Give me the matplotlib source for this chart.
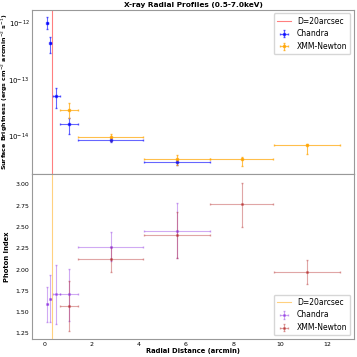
import matplotlib.pyplot as plt
import numpy as np

# radial bins (arcmin)
chandra_r = [0.127, 0.255, 0.51, 1.05, 2.81, 5.62]
chandra_rerr = [0.027, 0.03, 0.155, 0.38, 1.385, 1.405]
xmm_r = [1.05, 2.81, 5.62, 8.36, 11.12]
xmm_rerr = [0.38, 1.385, 1.405, 1.34, 1.415]

# surface brightness (ergs cm^-2 arcmin^-2 s^-1)
chandra_sb = [9.8e-13, 4.33e-13, 5.14e-14, 1.63e-14, 8.74e-15, 3.47e-15]
chandra_sb_lo = [2.15e-13, 1.33e-13, 1.94e-14, 5.1e-15, 8.0e-16, 4.0e-16]
chandra_sb_hi = [2.65e-13, 1.33e-13, 1.96e-14, 5.1e-15, 8.0e-16, 4.0e-16]
xmm_sb = [2.88e-14, 9.7e-15, 3.98e-15, 4.04e-15, 6.94e-15]
xmm_sb_lo = [7.4e-15, 1.3e-15, 8.0e-16, 1.05e-15, 2.0e-15]
xmm_sb_hi = [9.9e-15, 1.3e-15, 8.0e-16, 3.0e-16, 3.0e-16]

# photon index
chandra_gamma = [1.597, 1.66, 1.711, 1.711, 2.27, 2.457]
chandra_gamma_lo = [0.21, 0.28, 0.345, 0.313, 0.17, 0.32]
chandra_gamma_hi = [0.20, 0.273, 0.347, 0.30, 0.175, 0.323]
xmm_gamma = [1.57, 2.12, 2.41, 2.765, 1.977]
xmm_gamma_lo = [0.297, 0.152, 0.27, 0.265, 0.147]
xmm_gamma_hi = [0.293, 0.15, 0.265, 0.255, 0.14]

d20 = 20 / 60.

fig, (ax1, ax2) = plt.subplots(2, 1, sharex=True, figsize=(3.57, 3.57), dpi=100)
fig.subplots_adjust(left=0.09, right=0.992, top=0.973, bottom=0.05, hspace=0)

# top panel: surface brightness
ax1.axvline(d20, color='red', alpha=0.5, lw=0.8, label='D=20arcsec')
ax1.errorbar(chandra_r, chandra_sb, xerr=chandra_rerr, yerr=[chandra_sb_lo, chandra_sb_hi],
             fmt='s', ms=1.5, color='blue', ecolor='blue', elinewidth=0.8, capsize=1,
             alpha=0.6, label='Chandra')
ax1.errorbar(xmm_r, xmm_sb, xerr=xmm_rerr, yerr=[xmm_sb_lo, xmm_sb_hi],
             fmt='s', ms=1.5, color='orange', ecolor='orange', elinewidth=0.8, capsize=1,
             alpha=0.7, label='XMM-Newton')
ax1.set_yscale('log')
ax1.set_ylim(10**-14.67, 10**-11.767)
ax1.set_ylabel(r'Surface Brightness (ergs cm$^{-2}$ arcmin$^{-2}$ s$^{-1}$)',
               fontsize=4.5, fontweight='bold')
ax1.yaxis.set_label_coords(-0.068, 0.5)
ax1.set_title('X-ray Radial Profiles (0.5-7.0keV)', fontsize=5.3, fontweight='bold', pad=2)
ax1.legend(loc='upper right', fontsize=5.5, handlelength=1.8, borderpad=0.4)

# bottom panel: photon index
ax2.axvline(d20, color='orange', alpha=0.5, lw=0.8, label='D=20arcsec')
ax2.errorbar(chandra_r, chandra_gamma, xerr=chandra_rerr, yerr=[chandra_gamma_lo, chandra_gamma_hi],
             fmt='s', ms=1.2, color='blueviolet', ecolor='blueviolet', elinewidth=0.8, capsize=1,
             alpha=0.4, label='Chandra')
ax2.errorbar(xmm_r, xmm_gamma, xerr=xmm_rerr, yerr=[xmm_gamma_lo, xmm_gamma_hi],
             fmt='s', ms=1.2, color='firebrick', ecolor='firebrick', elinewidth=0.8, capsize=1,
             alpha=0.4, label='XMM-Newton')
ax2.set_ylim(1.183, 3.117)
ax2.set_yticks(np.arange(1.25, 3.01, 0.25))
ax2.set_xlim(-0.52, 13.12)
ax2.set_ylabel('Photon Index', fontsize=4.9, fontweight='bold')
ax2.yaxis.set_label_coords(-0.068, 0.5)
ax2.set_xlabel('Radial Distance (arcmin)', fontsize=4.9, fontweight='bold', labelpad=1)
ax2.legend(loc='lower right', fontsize=5.5, handlelength=1.8, borderpad=0.4)

for ax in (ax1, ax2):
    ax.tick_params(which='both', length=0, labelsize=4.5, pad=2)
    for sp in ax.spines.values():
        sp.set_color('#999999')
        sp.set_linewidth(0.8)
ax1.tick_params(axis='y', labelsize=5)

plt.savefig('out.png', dpi=100)
plt.close()
